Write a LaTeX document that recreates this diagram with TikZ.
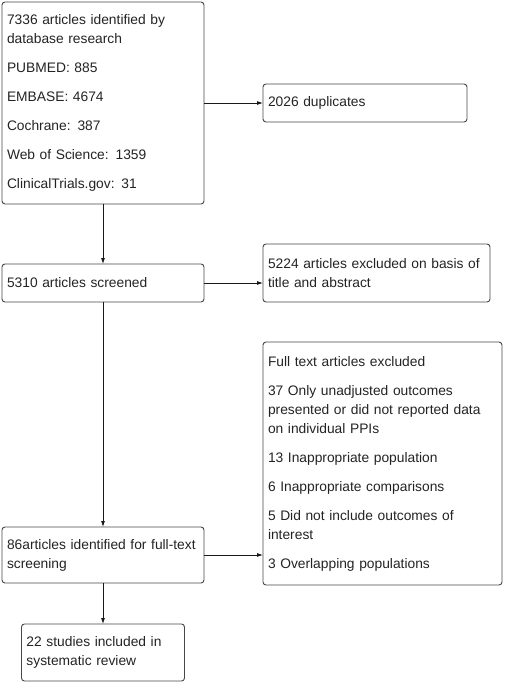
\documentclass[tikz,border=0pt]{standalone}
\usepackage{fontspec}
\setmainfont{Liberation Sans}
\usetikzlibrary{arrows.meta, positioning}
\definecolor{BoxLine}{RGB}{70, 70, 70}
\definecolor{ArrowLine}{RGB}{25, 25, 25}
\definecolor{TextGray}{RGB}{35, 35, 35}
\tikzset{
  box/.style={rectangle, rounded corners=3pt, draw=BoxLine, line width=0.9pt,
    align=left, inner sep=5pt, outer sep=0pt, text=TextGray,
    font=\fontsize{13.8pt}{19pt}\selectfont},
  arr/.style={-{Latex[length=6pt, width=4pt]}, line width=0.8pt, color=ArrowLine},
}
\begin{document}
\begin{tikzpicture}[node distance=59pt]
  \useasboundingbox (0,0) rectangle (505pt,-683pt);
  \node[box, anchor=north west, text width=192pt, minimum height=202pt] (src)
    at (2pt,-2pt)
    {7336 articles identified by\\database research\\[10pt]
     PUBMED: 885\\[10pt]
     EMBASE: 4674\\[10pt]
     Cochrane: 387\\[10pt]
     Web of Science: 1359\\[10pt]
     ClinicalTrials.gov: 31};
  \node[box, right=59pt of src, text width=194pt, minimum height=38pt] (dup)
    {2026 duplicates};
  \node[box, below=60pt of src, text width=192pt, minimum height=38pt] (scr)
    {5310 articles screened};
  \node[box, right=59pt of scr.south east, anchor=south west,
        text width=217pt, minimum height=58pt] (exa)
    {5224 articles excluded on basis of\\title and abstract};
  \node[box, below=225pt of scr, text width=192pt, minimum height=56pt] (full)
    {86articles identified for full-text\\screening};
  \node[box, right=59pt of full.south east, anchor=south west, yshift=-2pt,
        text width=229pt, minimum height=243pt] (exf)
    {Full text articles excluded\\[10pt]
     37 Only unadjusted outcomes\\presented or did not reported data\\on individual PPIs\\[10pt]
     13 Inappropriate population\\[10pt]
     6 Inappropriate comparisons\\[10pt]
     5 Did not include outcomes of\\interest\\[10pt]
     3 Overlapping populations};
  \node[box, below=41pt of full, text width=153pt, minimum height=57pt] (incl)
    {22 studies included in\\systematic review};
  \draw[arr] (src)--(dup);
  \draw[arr] (src)--(scr);
  \draw[arr] (scr.east)--(scr.east -| exa.west);
  \draw[arr] (scr)--(full);
  \draw[arr] (full.east)--(full.east -| exf.west);
  \draw[arr] (full)--(incl);
\end{tikzpicture}
\end{document}
